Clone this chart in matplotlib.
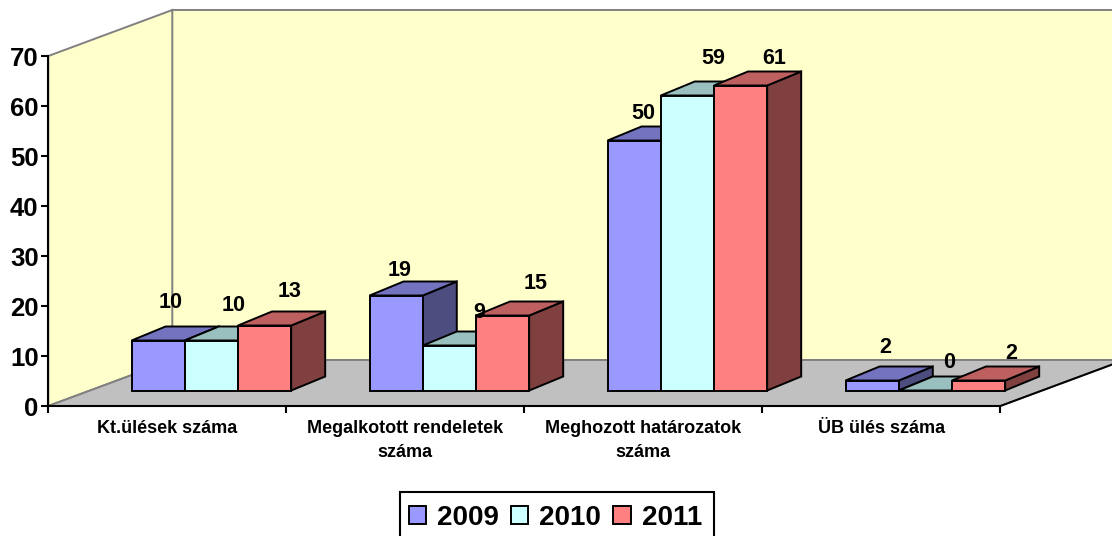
import matplotlib
matplotlib.use("Agg")
import matplotlib.pyplot as plt
from matplotlib.patches import Patch, Rectangle

plt.rcParams["font.family"] = ["Liberation Sans", "DejaVu Sans"]
plt.rcParams["font.weight"] = "bold"

categories = ["Kt.ülések száma", "Megalkotott rendeletek\nszáma", "Meghozott határozatok\nszáma", "ÜB ülés száma"]
years = ["2009", "2010", "2011"]
values_2009 = [10, 19, 50, 2]
values_2010 = [10, 9, 59, 0]
values_2011 = [13, 15, 61, 2]
y_ticks = [0, 10, 20, 30, 40, 50, 60, 70]

front_colors = ["#9999FF", "#CCFFFF", "#FF8080"]
top_colors = ["#7373BF", "#99BFBF", "#BF6060"]
side_colors = ["#4D4D80", "#668080", "#804040"]

# hand placed data labels, pixels from the front middle of each bar top
label_shifts = [
    [(12, 38), (3, 25), (9, 27), (13, 33)],
    [(22, 35), (30, 33), (26, 37), (24, 28)],
    [(25, 34), (33, 32), (34, 27), (33, 27)],
]

PX_X = 238.0      # pixels per category
PX_Y = 5.0        # pixels per value unit
DEPTH_X = 124 / PX_X
DEPTH_Y = 46 / PX_Y
BAR_W = 53.2 / PX_X
GAP = 41.5 / PX_X
BAR_FRONT = 15.5 / 46
BAR_DX = 34 / PX_X
BAR_DY = 14 / PX_Y
FIG_W = 1112
FIG_H = 536


#====== HELPERS ======================================
def proj(x, v, d):
    """
    Fake oblique projection: d = 0 is the front of the box, d = 1 the back wall
    """
    return x + d * DEPTH_X, v + d * DEPTH_Y


def back(p):
    # the same bar corner, moved to the back of the bar
    return p[0] + BAR_DX, p[1] + BAR_DY


def face(ax, points, color, edge, lw, z):
    xs = [p[0] for p in points]
    ys = [p[1] for p in points]
    ax.fill(xs, ys, facecolor=color, edgecolor=edge, linewidth=lw, zorder=z, joinstyle="miter")


def draw_bar(ax, x, value, idx, z):
    x2 = x + BAR_W
    a = proj(x, 0, BAR_FRONT)
    b = proj(x2, 0, BAR_FRONT)
    c = proj(x2, value, BAR_FRONT)
    d = proj(x, value, BAR_FRONT)
    face(ax, [b, back(b), back(c), c], side_colors[idx], "black", 1.4, z)
    face(ax, [d, c, back(c), back(d)], top_colors[idx], "black", 1.4, z)
    face(ax, [a, b, c, d], front_colors[idx], "black", 1.4, z)


fig = plt.figure(figsize=(FIG_W / 100, FIG_H / 100), dpi=100)
ax = fig.add_axes([0, 0, 1, 1])
ax.set_xlim(-48.3 / PX_X, (FIG_W - 48.3) / PX_X)
ax.set_ylim(-130 / PX_Y, 406 / PX_Y)
ax.patch.set_visible(False)

n = len(categories)
top = y_ticks[-1]

# walls and floor
face(ax, [proj(0, 0, 1), proj(n, 0, 1), proj(n, top, 1), proj(0, top, 1)], "#FFFFCC", "#808080", 1.4, 1)
face(ax, [proj(0, 0, 0), proj(0, 0, 1), proj(0, top, 1), proj(0, top, 0)], "#FFFFCC", "#808080", 1.4, 1)
face(ax, [proj(0, 0, 0), proj(n, 0, 0), proj(n, 0, 1), proj(0, 0, 1)], "#C0C0C0", "#808080", 1.4, 2)
ex = [proj(n, 0, 0)[0], proj(n, 0, 1)[0]]
ey = [proj(n, 0, 0)[1], proj(n, 0, 1)[1]]
ax.plot(ex, ey, color="black", lw=1.4, zorder=3)

# bars, left to right so the later ones cover the sides of the earlier ones
series = [values_2009, values_2010, values_2011]
z = 4
for c in range(n):
    for i, vals in enumerate(series):
        draw_bar(ax, c + GAP + i * BAR_W, vals[c], i, z)
        z += 1

# labels go on top of all the bars
for i, vals in enumerate(series):
    for c in range(n):
        bx = c + GAP + i * BAR_W + BAR_W / 2 + BAR_FRONT * DEPTH_X
        by = vals[c] + BAR_FRONT * DEPTH_Y
        ax.annotate(str(vals[c]), (bx, by), xytext=label_shifts[i][c], textcoords="offset pixels",
                    ha="center", va="center", fontsize=15.5, fontweight="bold", color="black", zorder=50)

# axes
for s in ["top", "right"]:
    ax.spines[s].set_visible(False)
ax.spines["left"].set_position(("data", 0))
ax.spines["bottom"].set_position(("data", 0))
ax.spines["left"].set_bounds(0, top)
ax.spines["bottom"].set_bounds(0, n)
ax.spines["left"].set_linewidth(1.5)
ax.spines["bottom"].set_linewidth(1.5)
ax.spines["left"].set_zorder(40)
ax.spines["bottom"].set_zorder(40)

ax.set_yticks(y_ticks)
ax.set_yticklabels([str(t) for t in y_ticks], fontsize=18.5, fontweight="bold", va="center_baseline")
ax.tick_params(axis="y", length=5, width=1.5, pad=2)
ax.set_xticks(range(n + 1))
ax.set_xticklabels([])
ax.tick_params(axis="x", which="major", length=5, width=1.5)
ax.set_xticks([c + 0.5 for c in range(n)], minor=True)
ax.set_xticklabels(categories, minor=True, fontsize=13, fontweight="bold", linespacing=1.55)
ax.tick_params(axis="x", which="minor", length=0, pad=10)

# legend box runs off the bottom of the picture in the original
fig.add_artist(Rectangle((400 / FIG_W, 1 - 542 / FIG_H), 314 / FIG_W, 50 / FIG_H, transform=fig.transFigure,
                         facecolor="white", edgecolor="black", linewidth=1.5, clip_on=False))
handles = [Patch(facecolor=front_colors[i], edgecolor="black", linewidth=1.4, label=years[i]) for i in range(3)]
fig.legend(handles=handles, loc="center left", bbox_to_anchor=(409 / FIG_W, 1 - 518 / FIG_H), ncol=3,
           prop={"size": 20, "weight": "bold"}, frameon=False, borderpad=0, borderaxespad=0,
           handlelength=0.62, handleheight=0.62, handletextpad=0.4, columnspacing=0.43)

fig.savefig("out.png", dpi=100)
